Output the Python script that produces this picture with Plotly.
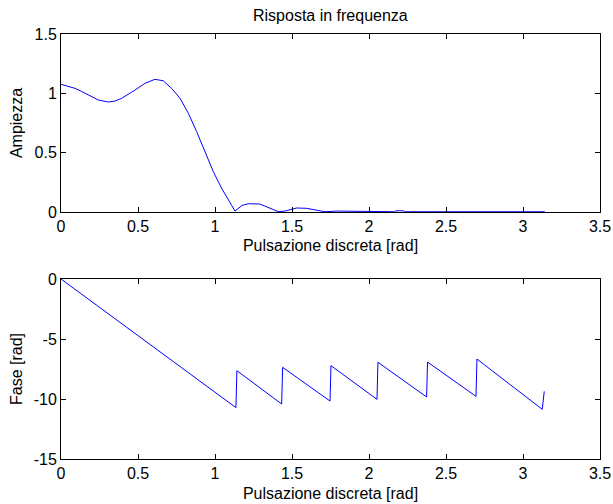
import plotly.graph_objects as go

# Amplitude response
amp_w = [0.0, 0.045, 0.091, 0.135, 0.177, 0.242, 0.307, 0.350, 0.394, 0.440, 0.481,
         0.545, 0.610, 0.664, 0.718, 0.773, 0.827, 0.881, 0.935, 0.989, 1.043, 1.087,
         1.130, 1.175, 1.216, 1.292, 1.357, 1.411, 1.455, 1.530, 1.595, 1.660, 1.714,
         1.790, 1.985, 2.050, 2.165, 2.175, 2.225, 2.235, 2.500, 2.800, 3.100, 3.1416]
amp_v = [1.076, 1.062, 1.042, 1.015, 0.986, 0.944, 0.927, 0.935, 0.958, 0.992, 1.028,
         1.084, 1.118, 1.106, 1.042, 0.958, 0.831, 0.677, 0.508, 0.340, 0.200, 0.101,
         0.008, 0.055, 0.070, 0.067, 0.034, 0.003, 0.008, 0.034, 0.031, 0.014, 0.002,
         0.008, 0.008, 0.002, 0.002, 0.010, 0.010, 0.002, 0.002, 0.002, 0.002, 0.002]

# Phase response
ph_w = [0.0, 1.136, 1.142, 1.433, 1.439, 1.747, 1.753, 2.052, 2.058, 2.374, 2.380,
        2.695, 2.701, 3.125, 3.138]
ph_v = [0.0, -10.72, -7.64, -10.42, -7.36, -10.17, -7.22, -10.03, -6.94, -9.83, -6.92,
        -9.78, -6.67, -10.86, -9.36]

title_text = "Risposta in frequenza"
xlabel = "Pulsazione discreta [rad]"
ylabel_top = "Ampiezza"
ylabel_bot = "Fase [rad]"

x_ticks = [0, 0.5, 1, 1.5, 2, 2.5, 3, 3.5]
x_ticktext = ["0", "0.5", "1", "1.5", "2", "2.5", "3", "3.5"]
y_top_ticks = [0, 0.5, 1, 1.5]
y_top_text = ["0", "0.5", "1", "1.5"]
y_bot_ticks = [-15, -10, -5, 0]
y_bot_text = ["-15", "-10", "-5", "0"]

W, H = 613, 504
L, R, T, B = 61, 13, 34, 45
PH = H - T - B
FONT = "Liberation Sans, Arial, sans-serif"
FS = 16

def py(pix):
    # paper fraction for a window pixel row
    return (H - B - pix) / PH

fig = go.Figure()
fig.add_trace(go.Scatter(x=amp_w, y=amp_v, mode="lines",
                         line=dict(color="#0000ff", width=1), xaxis="x", yaxis="y",
                         showlegend=False, hoverinfo="skip"))
fig.add_trace(go.Scatter(x=ph_w, y=ph_v, mode="lines",
                         line=dict(color="#0000ff", width=1), xaxis="x2", yaxis="y2",
                         showlegend=False, hoverinfo="skip"))

top_d = [py(212), 1.0]
bot_d = [0.0, py(279)]

common = dict(showgrid=False, zeroline=False, showline=True, linecolor="black",
              linewidth=1, mirror="allticks", ticks="inside", ticklen=5,
              tickcolor="black", automargin=False,
              tickfont=dict(family=FONT, size=FS, color="black"))

fig.update_layout(
    width=W, height=H,
    margin=dict(l=L, r=R, t=T, b=B),
    paper_bgcolor="white", plot_bgcolor="white",
    font=dict(family=FONT, size=FS, color="black"),
    xaxis=dict(domain=[0, 1], range=[0, 3.5], anchor="y",
               tickvals=x_ticks, ticktext=x_ticktext,
               title=dict(text=xlabel, standoff=5, font=dict(size=FS)), **common),
    yaxis=dict(domain=top_d, range=[0, 1.5], anchor="x",
               tickvals=y_top_ticks, ticktext=y_top_text,
               title=dict(text=ylabel_top, standoff=7, font=dict(size=FS)), **common),
    xaxis2=dict(domain=[0, 1], range=[0, 3.5], anchor="y2",
                tickvals=x_ticks, ticktext=x_ticktext,
                title=dict(text=xlabel, standoff=6, font=dict(size=FS)), **common),
    yaxis2=dict(domain=bot_d, range=[-15, 0], anchor="x2",
                tickvals=y_bot_ticks, ticktext=y_bot_text,
                title=dict(text=ylabel_bot, standoff=7, font=dict(size=FS)), **common),
    annotations=[dict(text=title_text, x=0.5, y=py(15),
                      xref="paper", yref="paper", showarrow=False,
                      xanchor="center", yanchor="middle",
                      font=dict(family=FONT, size=FS, color="black"))],
)

fig.write_html(
    "out.html",
    config={"displayModeBar": False},
    post_script="document.body.style.margin='0px';document.body.style.overflow='hidden';",
)
